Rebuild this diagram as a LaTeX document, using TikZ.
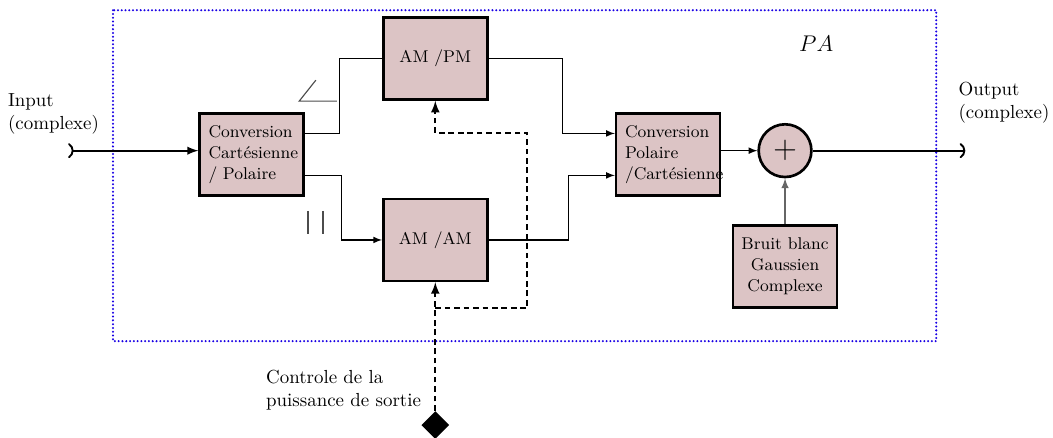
\documentclass[tikz,border=0pt]{standalone}
\usepackage{amsmath}
\usepackage{amssymb}
\usetikzlibrary{shapes.geometric,arrows}

\definecolor{boxfill}{RGB}{220,196,197}

\begin{document}
\begin{tikzpicture}[
        bloc/.style={draw,line width=1.4pt,fill=boxfill,minimum width=1.93cm,minimum height=1.52cm,font=\small,align=center},
        conv/.style={bloc,text width=1.6cm,align=left,inner sep=0.165cm},
        lien/.style={semithick,-latex},
        cmde/.style={line width=1.1pt,dash pattern=on 3pt off 2pt,-latex}
    ]
    \useasboundingbox (0,0) rectangle (19.57,-8.14);

    % zone de l'amplificateur
    \draw[blue!80!violet,line width=1.2pt,line cap=round,dash pattern=on 0pt off 2pt] (2.10,-0.19) rectangle (17.40,-6.34);
    \node (pa) at (15.17,-0.82) {\large $PA$};

    % blocs
    \node[conv] (cartpol) at (4.675,-2.87) {Conversion\\Cart\'esienne\\/ Polaire};
    \node[bloc] (ampm) at (8.09,-1.09) {AM /PM};
    \node[bloc] (amam) at (8.09,-4.46) {AM /AM};
    \node[conv] (polcart) at (12.416,-2.87) {Conversion\\Polaire\\/Cart\'esienne};
    \node[draw,line width=1.4pt,fill=boxfill,circle,minimum size=0.98cm,inner sep=0pt] (somme) at (14.59,-2.80) {\LARGE $+$};
    \node[bloc] (bruit) at (14.59,-4.95) {Bruit blanc\\Gaussien\\Complexe};
    \node[diamond,fill=black,minimum size=0.52cm,inner sep=0pt] (ctrl) at (8.09,-7.90) {};

    % textes
    \node[align=left] (entreetxt) at (0.994,-2.12) {Input\\(complexe)};
    \node[align=left] (sortietxt) at (18.66,-1.915) {Output\\(complexe)};
    \node[align=left] (ctrltxt) at (6.385,-7.25) {Controle de la\\puissance de sortie};

    \coordinate (entree) at (1.264,-2.80);
    \coordinate (sortie) at (17.94,-2.80);

    % liaisons
    \draw[line width=1pt,)-latex] (entree) -- (cartpol.west |- entree);
    \draw[semithick] ([yshift=0.39cm]cartpol.east) -- ++(0.65,0) |- (ampm.west);
    \draw[lien] ([yshift=-0.39cm]cartpol.east) -- ++(0.69,0) |- (amam.west);
    \draw[lien] (ampm.east) -- ++(1.37,0) |- ([yshift=0.39cm]polcart.west);
    \draw[lien] (amam.east) -- ++(1.49,0) |- ([yshift=-0.39cm]polcart.west);
    \draw[lien] (polcart.east |- somme.west) -- (somme.west);
    \draw[lien,black!60,thick] (bruit.north) -- (somme.south);
    \draw[line width=1pt,-)] (somme.east) -- (sortie);

    % phase et module
    \draw[semithick,black!70] (6.26,-1.88) -- (5.56,-1.88) -- (5.87,-1.49);
    \draw[semithick,black!70] (5.725,-3.92) -- (5.725,-4.35) (6.004,-3.92) -- (6.004,-4.35);

    % commande de puissance
    \coordinate (bif) at (8.09,-5.725);
    \coordinate (haut) at (9.80,-2.47);
    \draw[cmde] (ctrl.north) -- (amam.south);
    \draw[cmde] (bif) -| (haut) -| (ampm.south);
\end{tikzpicture}
\end{document}
